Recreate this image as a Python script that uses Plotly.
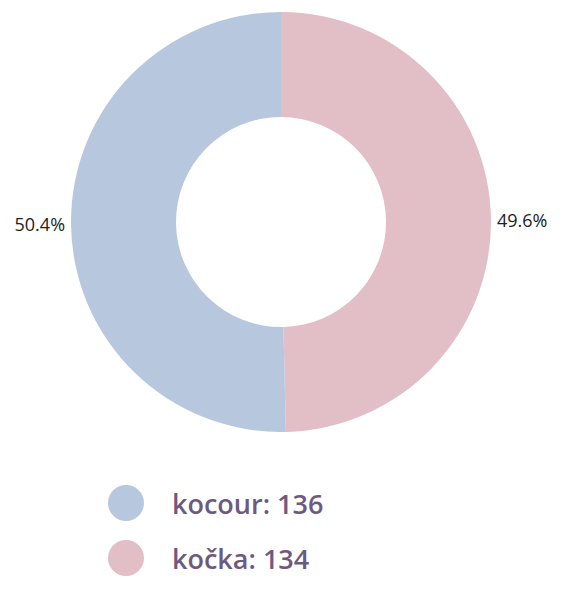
import plotly.graph_objects as go

categories = ["kocour", "kočka"]
values = [136, 134]
colors = ["#b7c7de", "#e2bec6"]

W, H = 584, 589
OFF = 8  # page body margin offset
cx, cy, r = 281 - OFF, 222 - OFF, 210

# pie drawn clockwise from 12 o'clock with kočka first so kocour sits on the left
fig = go.Figure()
fig.add_trace(go.Pie(
    labels=categories[::-1],
    values=values[::-1],
    hole=0.5,
    sort=False,
    direction="clockwise",
    rotation=0,
    marker=dict(colors=colors[::-1], line=dict(width=0)),
    textinfo="percent",
    texttemplate="%{percent:.1%}",
    textposition="outside",
    textfont=dict(family="Open Sans", size=18, color="#222222"),
    showlegend=False,
    domain=dict(x=[(cx - r) / W, (cx + r) / W], y=[1 - (cy + r) / H, 1 - (cy - r) / H]),
))

# Custom legend built from the data
leg_x_circle = 126 - OFF
leg_x_text = 170 - OFF
leg_y = [503 - OFF, 558 - OFF]
leg_r = 18
for i, (cat, val) in enumerate(zip(categories, values)):
    yc = leg_y[i]
    fig.add_shape(type="circle", xref="paper", yref="paper",
                  x0=(leg_x_circle - leg_r) / W, x1=(leg_x_circle + leg_r) / W,
                  y0=1 - (yc + leg_r) / H, y1=1 - (yc - leg_r) / H,
                  fillcolor=colors[i], line=dict(width=0))
    fig.add_annotation(xref="paper", yref="paper", x=leg_x_text / W, y=1 - yc / H,
                       text=f"{cat}: {val}", showarrow=False, xanchor="left", yanchor="middle",
                       font=dict(family="Open Sans", size=27, weight=600, color="#6e5a80"))

fig.update_layout(
    width=W, height=H,
    margin=dict(l=0, r=0, t=0, b=0),
    paper_bgcolor="white", plot_bgcolor="white",
)
fig.write_html("out.html")
